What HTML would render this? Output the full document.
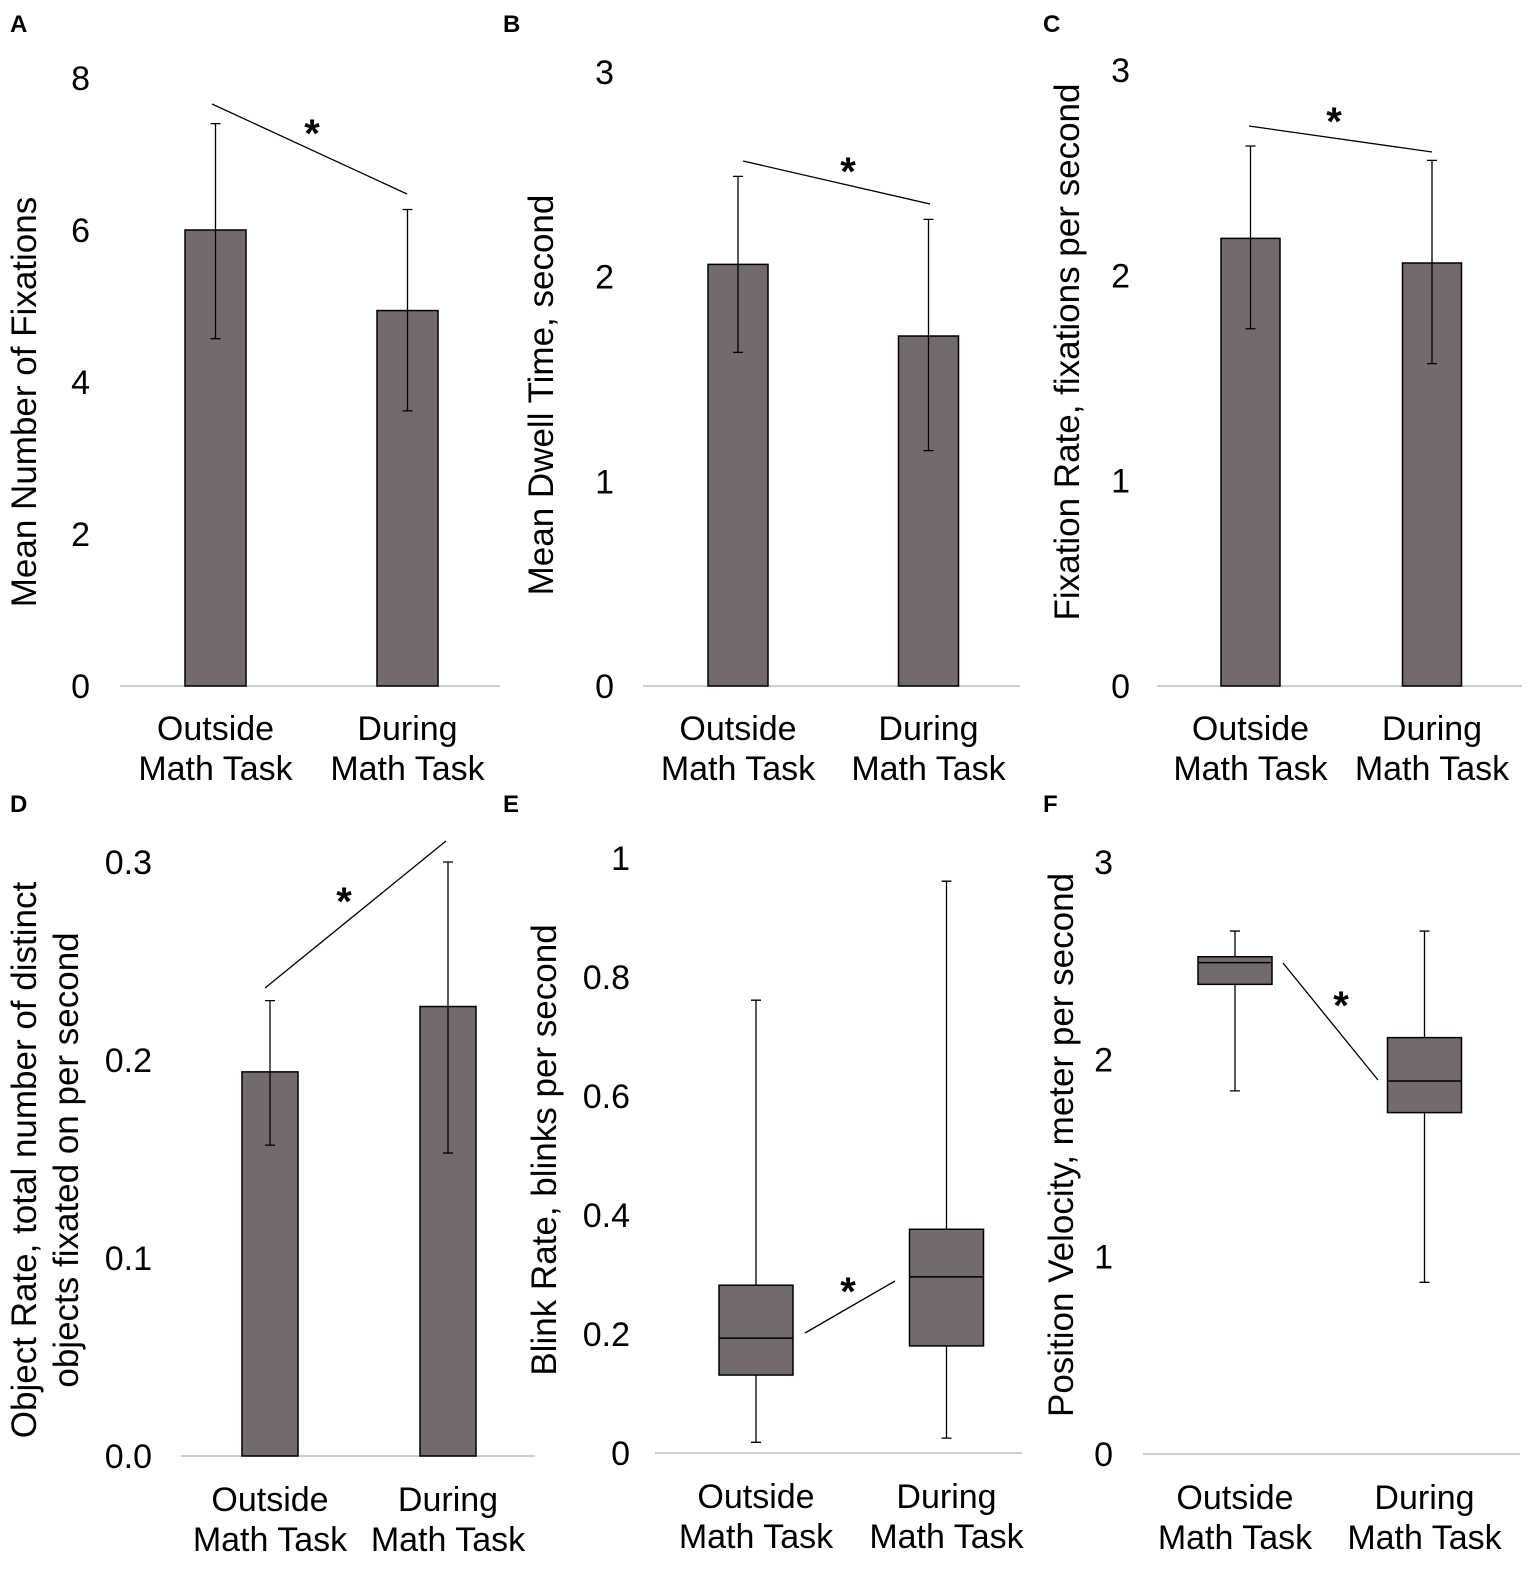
<!DOCTYPE html>
<html><head><meta charset="utf-8"><style>
body{margin:0;background:#fff}
svg{display:block;font-family:"Liberation Sans",Arial,sans-serif}
</style></head><body>
<svg id="fig" width="1535" height="1572" viewBox="0 0 1535 1572"></svg>
<script>
const categories=["Outside|Math Task","During|Math Task"];
const aMeans=[6.0,4.94];const aErrHi=[7.4,6.27];const aErrLo=[4.57,3.62];const aTicks=[0,2,4,6,8];
const bMeans=[2.06,1.71];const bErrHi=[2.49,2.28];const bErrLo=[1.63,1.15];const bTicks=[0,1,2,3];
const cMeans=[2.18,2.06];const cErrHi=[2.63,2.56];const cErrLo=[1.74,1.57];const cTicks=[0,1,2,3];
const dMeans=[0.194,0.227];const dErrHi=[0.230,0.300];const dErrLo=[0.157,0.153];const dTicks=["0.0","0.1","0.2","0.3"];
const eMax=[0.761,0.961];const eQ3=[0.282,0.376];const eMed=[0.193,0.296];const eQ1=[0.131,0.180];const eMin=[0.018,0.025];const eTicks=["0","0.2","0.4","0.6","0.8","1"];
const fMax=[2.65,2.65];const fQ3=[2.52,2.11];const fMed=[2.49,1.89];const fQ1=[2.38,1.73];const fMin=[1.84,0.87];const fTicks=[0,1,2,3];

const NS="http://www.w3.org/2000/svg";const svg=document.getElementById('fig');
function el(t,a,p){const e=document.createElementNS(NS,t);for(const k in a)e.setAttribute(k,a[k]);(p||svg).appendChild(e);return e;}
function txt(s,a,p){const e=el('text',a,p);e.textContent=s;return e;}

function panel(cfg){
 const g=el('g',{});
 
 
 const y=v=>cfg.y0-(v-cfg.vmin)/(cfg.vmax-cfg.vmin)*(cfg.y0-cfg.y1);
 const lt=txt(cfg.letter,{x:cfg.lx,y:cfg.ly,'font-size':24,'font-weight':'bold'},g);
 
 const ax=el('line',{x1:cfg.ax0,x2:cfg.ax1,y1:cfg.y0,y2:cfg.y0,stroke:'#bfbfbf','stroke-width':1.5},g);
 
 cfg.ticks.forEach(t=>{const v=parseFloat(t);
  const e=txt(String(t),{x:cfg.tx,y:y(v)+12,'font-size':34,'text-anchor':'end',fill:'#000'},g);
  });
 const tg=el('g',{transform:`translate(${cfg.titx},${cfg.tity}) rotate(-90)`},g);
 
 cfg.title.forEach((s,i)=>txt(s,{x:0,y:i*42,'font-size':35,'text-anchor':'middle'},tg));
 cfg.cx.forEach((cx,i)=>{
  const parts=categories[i].split('|');
  parts.forEach((s,j)=>{const e=txt(s,{x:cx,y:cfg.caty+j*40,'font-size':34,'text-anchor':'middle'},g);
   });
  const w=cfg.w;
  if(cfg.means){
   const b=el('rect',{x:cx-w/2,y:y(cfg.means[i]),width:w,height:cfg.y0-y(cfg.means[i]),fill:'#736b6b',stroke:'#000','stroke-width':1.5},g);
   
   const eb=el('path',{d:`M${cx} ${y(cfg.hi[i])}V${y(cfg.lo[i])}M${cx-5} ${y(cfg.hi[i])}H${cx+5}M${cx-5} ${y(cfg.lo[i])}H${cx+5}`,stroke:'#000','stroke-width':1.3,fill:'none'},g);
   
  } else {
   const wh=el('path',{d:`M${cx} ${y(cfg.max[i])}V${y(cfg.q3[i])}M${cx} ${y(cfg.q1[i])}V${y(cfg.min[i])}M${cx-5} ${y(cfg.max[i])}H${cx+5}M${cx-5} ${y(cfg.min[i])}H${cx+5}`,stroke:'#000','stroke-width':1.3,fill:'none'},g);
   
   const bx=el('rect',{x:cx-w/2,y:y(cfg.q3[i]),width:w,height:y(cfg.q1[i])-y(cfg.q3[i]),fill:'#736b6b',stroke:'#000','stroke-width':1.5},g);
   
   const md=el('line',{x1:cx-w/2,x2:cx+w/2,y1:y(cfg.med[i]),y2:y(cfg.med[i]),stroke:'#000','stroke-width':1.5},g);
   
  }
 });
 const s=cfg.sig;
 const sl=el('line',{x1:s[0],y1:s[1],x2:s[2],y2:s[3],stroke:'#000','stroke-width':1.3},g);
 
 const st=txt('*',{x:s[4],y:s[5]+22,'font-size':40,'font-weight':'bold','text-anchor':'middle'},g);
 
}
panel({letter:'A',lx:10,ly:32,y0:686,y1:78,vmin:0,vmax:8,ax0:120,ax1:500,tx:90,ticks:aTicks,titx:36,tity:402,title:['Mean Number of Fixations'],cx:[215.5,407.5],w:61,caty:740,means:aMeans,hi:aErrHi,lo:aErrLo,sig:[212,104,407,194,312,125]});
panel({letter:'B',lx:503,ly:32,y0:686,y1:72,vmin:0,vmax:3,ax0:643,ax1:1020,tx:614,ticks:bTicks,titx:553,tity:395,title:['Mean Dwell Time, second'],cx:[738,928.5],w:60,caty:740,means:bMeans,hi:bErrHi,lo:bErrLo,sig:[743,161,930,204,848,163]});
panel({letter:'C',lx:1043,ly:32,y0:686,y1:70,vmin:0,vmax:3,ax0:1157,ax1:1522,tx:1130,ticks:cTicks,titx:1079,tity:352,title:['Fixation Rate, fixations per second'],cx:[1250.5,1432],w:59,caty:740,means:cMeans,hi:cErrHi,lo:cErrLo,sig:[1249,126,1432,152,1334,113]});
panel({letter:'D',lx:10,ly:812,y0:1456,y1:862,vmin:0,vmax:0.3,ax0:181,ax1:535,tx:152,ticks:dTicks,titx:36,tity:1160,title:['Object Rate, total number of distinct','objects fixated on per second'],cx:[270,448],w:56,caty:1511,means:dMeans,hi:dErrHi,lo:dErrLo,sig:[265,988,446,841,344,893]});
panel({letter:'E',lx:503,ly:812,y0:1453,y1:858,vmin:0,vmax:1,ax0:655,ax1:1022,tx:630,ticks:eTicks,titx:556,tity:1150,title:['Blink Rate, blinks per second'],cx:[756,946.5],w:74,caty:1508,max:eMax,q3:eQ3,med:eMed,q1:eQ1,min:eMin,sig:[805,1333,895,1281,848,1283]});
panel({letter:'F',lx:1043,ly:812,y0:1454,y1:862,vmin:0,vmax:3,ax0:1143,ax1:1520,tx:1113,ticks:fTicks,titx:1073,tity:1145,title:['Position Velocity, meter per second'],cx:[1235,1424.5],w:74,caty:1509,max:fMax,q3:fQ3,med:fMed,q1:fQ1,min:fMin,sig:[1283,963,1378,1080,1341,997]});
</script>
</body></html>
